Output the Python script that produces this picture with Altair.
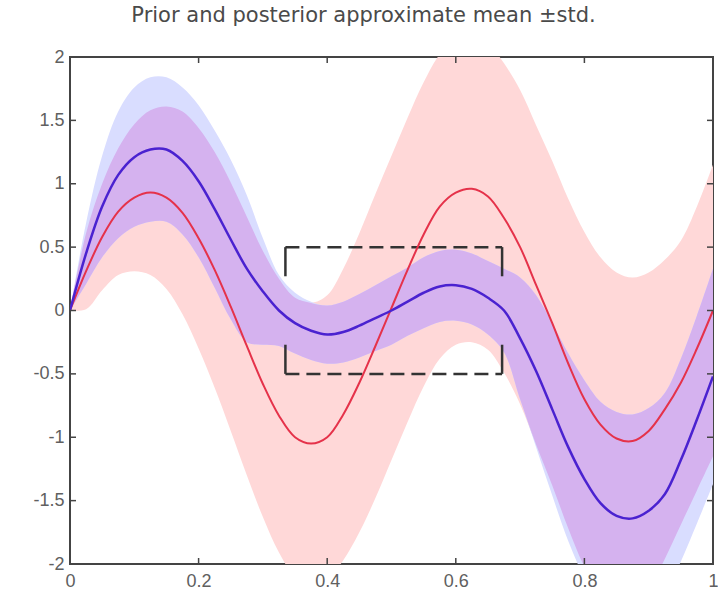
import altair as alt
import numpy as np
import pandas as pd

# ---- data ----
x_vals = [0.000, 0.025, 0.050, 0.075, 0.100, 0.125, 0.150, 0.175, 0.200, 0.225,
          0.250, 0.275, 0.300, 0.325, 0.350, 0.375, 0.400, 0.425, 0.450, 0.475,
          0.500, 0.525, 0.550, 0.575, 0.600, 0.625, 0.650, 0.675, 0.700, 0.725,
          0.750, 0.775, 0.800, 0.825, 0.850, 0.875, 0.900, 0.925, 0.950, 0.975, 1.000]

prior_mean = [0.00, 0.31, 0.58, 0.78, 0.89, 0.93, 0.89, 0.77, 0.57, 0.32,
              0.03, -0.28, -0.58, -0.83, -1.00, -1.05, -1.00, -0.82, -0.57, -0.28,
              0.02, 0.32, 0.60, 0.82, 0.93, 0.96, 0.90, 0.73, 0.50, 0.20,
              -0.10, -0.42, -0.70, -0.90, -1.01, -1.03, -0.95, -0.78, -0.57, -0.30, 0.00]

prior_std = [0.00, 0.30, 0.42, 0.50, 0.58, 0.65, 0.72, 0.80, 0.87, 0.93,
             0.98, 1.02, 1.05, 1.08, 1.10, 1.11, 1.12, 1.15, 1.18, 1.20,
             1.20, 1.20, 1.20, 1.20, 1.20, 1.21, 1.21, 1.22, 1.24, 1.26,
             1.28, 1.30, 1.32, 1.32, 1.31, 1.29, 1.25, 1.18, 1.12, 1.12, 1.15]

post_mean = [0.00, 0.45, 0.82, 1.07, 1.21, 1.27, 1.27, 1.18, 1.02, 0.80,
             0.56, 0.33, 0.15, 0.00, -0.10, -0.16, -0.19, -0.17, -0.12, -0.06,
             0.00, 0.07, 0.14, 0.19, 0.20, 0.17, 0.10, 0.00, -0.22, -0.48,
             -0.78, -1.08, -1.33, -1.52, -1.62, -1.64, -1.58, -1.45, -1.18, -0.86, -0.52]

post_std = [0.00, 0.24, 0.40, 0.50, 0.55, 0.57, 0.57, 0.58, 0.60, 0.62,
            0.63, 0.58, 0.42, 0.28, 0.24, 0.23, 0.23, 0.24, 0.25, 0.26,
            0.27, 0.27, 0.28, 0.28, 0.28, 0.28, 0.29, 0.33, 0.48, 0.60,
            0.68, 0.74, 0.78, 0.80, 0.82, 0.82, 0.81, 0.80, 0.80, 0.82, 0.85]

# dashed box (constraint region)
box_left, box_right = 0.335, 0.672
box_top, box_bottom = 0.5, -0.5
box_side_inner = 0.27

x_ticks = [0, 0.2, 0.4, 0.6, 0.8, 1.0]
y_ticks = [-2, -1.5, -1, -0.5, 0, 0.5, 1, 1.5, 2]
title_text = "Prior and posterior approximate mean \u00b1std."

# ---- derived tables ----
pm = np.array(prior_mean); ps = np.array(prior_std)
bm = np.array(post_mean); bs = np.array(post_std)
p_lo, p_hi = pm - ps, pm + ps
b_lo, b_hi = bm - bs, bm + bs
o_lo = np.maximum(p_lo, b_lo)
o_hi = np.maximum(np.minimum(p_hi, b_hi), o_lo)

df = pd.DataFrame({
    "x": x_vals, "prior_mean": prior_mean, "post_mean": post_mean,
    "p_lo": p_lo, "p_hi": p_hi, "b_lo": b_lo, "b_hi": b_hi,
    "o_lo": o_lo, "o_hi": o_hi,
})

hlines = pd.DataFrame({
    "x": [box_left, box_left], "x2": [box_right, box_right],
    "y": [box_top, box_bottom],
})
vlines = pd.DataFrame({
    "x": [box_left, box_left, box_right, box_right],
    "y": [box_top, box_bottom, box_top, box_bottom],
    "y2": [box_side_inner, -box_side_inner, box_side_inner, -box_side_inner],
})
xt = pd.DataFrame({"x": x_ticks})
yt = pd.DataFrame({"y": y_ticks})

W, H = 643, 507
label_expr = "replace(format(datum.value, '~g'), '\u2212', '-')"

xscale = alt.Scale(domain=[0, 1], nice=False, zero=False)
yscale = alt.Scale(domain=[-2, 2], nice=False, zero=False)
xaxis = alt.Axis(values=x_ticks, tickSize=0, domain=False, grid=False,
                 labelPadding=8, title=None, labelExpr=label_expr, labelFlush=False)
yaxis = alt.Axis(values=y_ticks, tickSize=0, domain=False, grid=False,
                 labelPadding=6, title=None, labelExpr=label_expr)


def X(field):
    return alt.X(f"{field}:Q", scale=xscale, axis=xaxis)


def Y(field):
    return alt.Y(f"{field}:Q", scale=yscale, axis=yaxis)


base = alt.Chart(df)
interp = "catmull-rom"

prior_band = base.mark_area(color="#FFD8D8", interpolate=interp, clip=True).encode(
    x=X("x"), y=Y("p_lo"), y2="p_hi")
post_band = base.mark_area(color="#D9DDFF", interpolate=interp, clip=True).encode(
    x=X("x"), y=Y("b_lo"), y2="b_hi")
over_band = base.mark_area(color="#D5B2EF", interpolate=interp, clip=True).encode(
    x=X("x"), y=Y("o_lo"), y2="o_hi")

box_h = alt.Chart(hlines).mark_rule(color="#333333", strokeWidth=2.5,
                                    strokeDash=[14, 7]).encode(
    x=X("x"), x2="x2", y=Y("y"))
box_v = alt.Chart(vlines).mark_rule(color="#333333", strokeWidth=2.5).encode(
    x=X("x"), y=Y("y"), y2="y2")

prior_line = base.mark_line(color="#E5324A", strokeWidth=2, interpolate=interp,
                            clip=True).encode(x=X("x"), y=Y("prior_mean"))
post_line = base.mark_line(color="#4A22D0", strokeWidth=2.5, interpolate=interp,
                           clip=True).encode(x=X("x"), y=Y("post_mean"))

tick_col = "#444444"
xt_bottom = alt.Chart(xt).mark_rule(color=tick_col, strokeWidth=1.5).encode(
    x=X("x"), y=alt.value(H), y2=alt.value(H - 6))
xt_top = alt.Chart(xt).mark_rule(color=tick_col, strokeWidth=1.5).encode(
    x=X("x"), y=alt.value(0), y2=alt.value(6))
yt_left = alt.Chart(yt).mark_rule(color=tick_col, strokeWidth=1.5).encode(
    y=Y("y"), x=alt.value(0), x2=alt.value(6))
yt_right = alt.Chart(yt).mark_rule(color=tick_col, strokeWidth=1.5).encode(
    y=Y("y"), x=alt.value(W), x2=alt.value(W - 6))

chart = alt.layer(
    prior_band, post_band, over_band, box_h, box_v, prior_line, post_line,
    xt_bottom, xt_top, yt_left, yt_right,
).properties(
    width=W, height=H,
    padding={"left": 70, "top": 57, "right": 5, "bottom": 30},
    autosize="none",
    title=alt.TitleParams(title_text, fontSize=21, font="DejaVu Sans",
                          color="#4a4a4a", fontWeight="normal", anchor="middle",
                          dx=-28, offset=5, baseline="alphabetic", frame="group"),
).configure_view(
    stroke="#444444", strokeWidth=2
).configure_axis(
    labelFont="Liberation Sans", labelFontSize=18, labelColor="#606060"
)

chart.save("out.html", embed_options={"renderer": "svg", "actions": False})
